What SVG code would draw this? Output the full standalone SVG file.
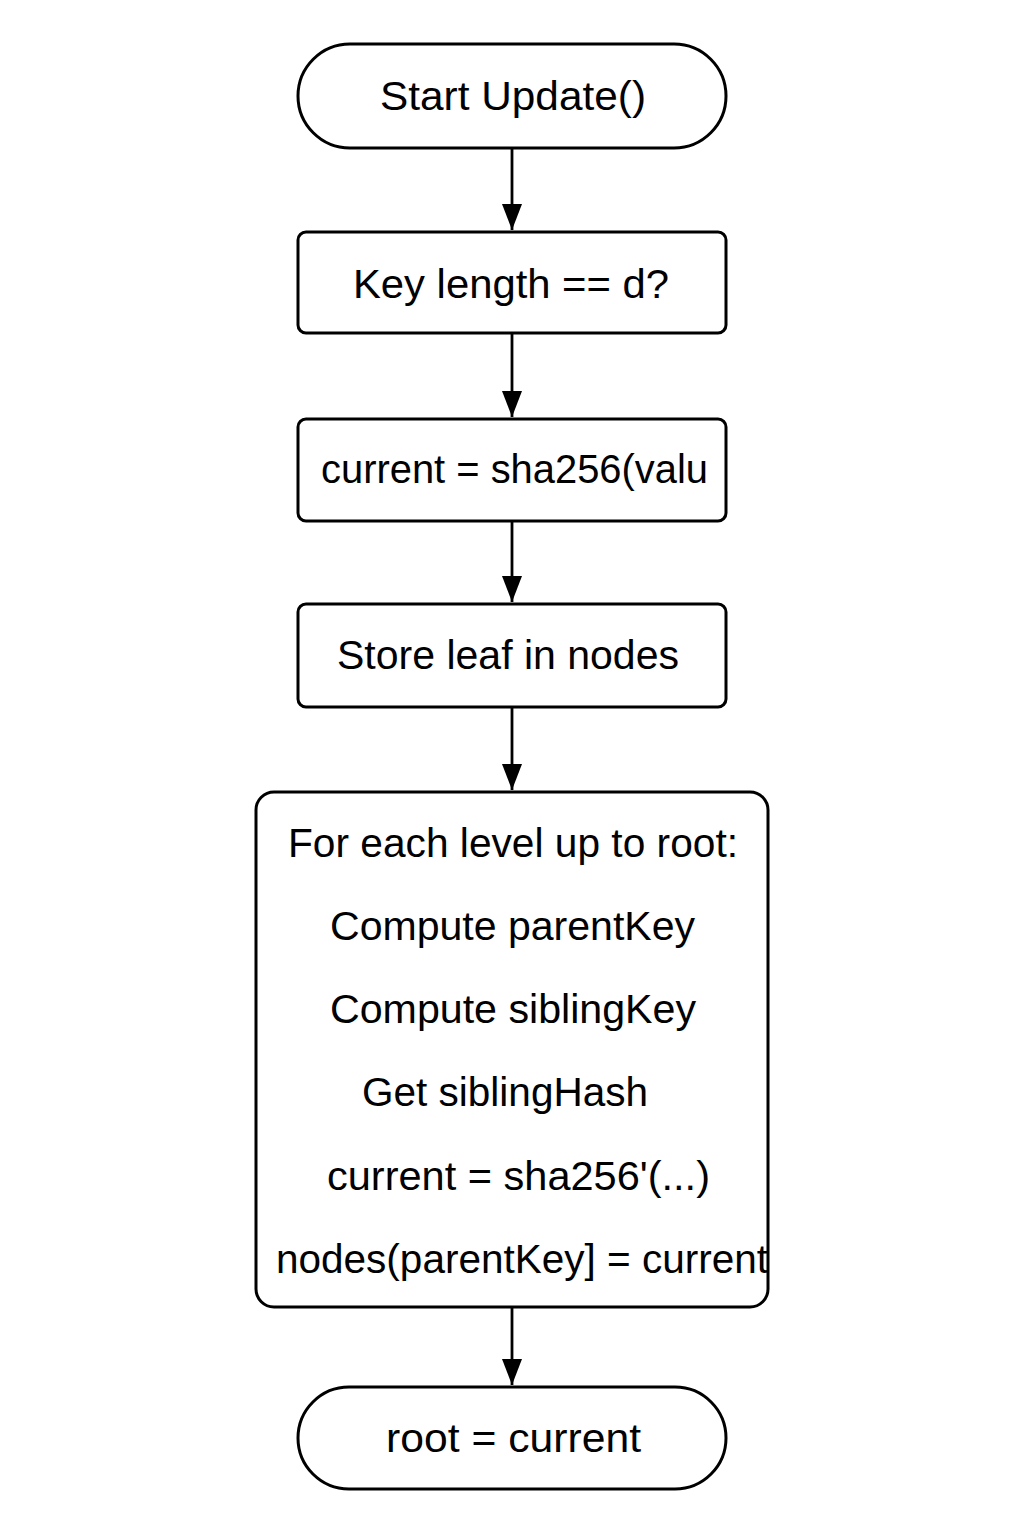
<svg xmlns="http://www.w3.org/2000/svg" width="1024" height="1536" viewBox="0 0 1024 1536">
<style>
.box{fill:#fff;stroke:#000;stroke-width:3}
.t{font-family:"Liberation Sans",Arial,sans-serif;font-size:40px;fill:#000;text-anchor:start}
.c{stroke:#000;stroke-width:2.8;fill:none;marker-end:url(#ah)}
</style>
<defs>
<marker id="ah" markerWidth="26" markerHeight="20" refX="26" refY="10" orient="auto" markerUnits="userSpaceOnUse" viewBox="0 0 26 20">
<path d="M0,0 L26,10 L0,20 Z" fill="#000"/>
</marker>
</defs>
<rect width="1024" height="1536" fill="#fff"/>
<g id="connectors">
<line class="c" x1="512" y1="148" x2="512" y2="230"/>
<line class="c" x1="512" y1="333" x2="512" y2="417"/>
<line class="c" x1="512" y1="521" x2="512" y2="602"/>
<line class="c" x1="512" y1="707" x2="512" y2="790"/>
<line class="c" x1="512" y1="1307" x2="512" y2="1385"/>
</g>
<g id="start">
<rect class="box" x="298" y="44" width="428" height="104" rx="52"/>
<text class="t" x="380" y="110" textLength="266" lengthAdjust="spacingAndGlyphs">Start Update()</text>
</g>
<g id="keycheck">
<rect class="box" x="298" y="232" width="428" height="101" rx="8"/>
<text class="t" x="353" y="298" textLength="316" lengthAdjust="spacingAndGlyphs">Key length == d?</text>
</g>
<g id="hashleaf">
<rect class="box" x="298" y="419" width="428" height="102" rx="8"/>
<text class="t" x="321" y="483" textLength="387" lengthAdjust="spacingAndGlyphs">current = sha256(valu</text>
</g>
<g id="storeleaf">
<rect class="box" x="298" y="604" width="428" height="103" rx="8"/>
<text class="t" x="337" y="669" textLength="342" lengthAdjust="spacingAndGlyphs">Store leaf in nodes</text>
</g>
<g id="loop">
<rect class="box" x="256" y="792" width="512" height="515" rx="18"/>
<text class="t" x="288" y="857" textLength="450" lengthAdjust="spacingAndGlyphs">For each level up to root:</text>
<text class="t" x="330" y="940" textLength="365" lengthAdjust="spacingAndGlyphs">Compute parentKey</text>
<text class="t" x="330" y="1023" textLength="366" lengthAdjust="spacingAndGlyphs">Compute siblingKey</text>
<text class="t" x="362" y="1106" textLength="286" lengthAdjust="spacingAndGlyphs">Get siblingHash</text>
<text class="t" x="327" y="1190" textLength="383" lengthAdjust="spacingAndGlyphs">current = sha256'(...)</text>
<text class="t" x="276" y="1273" textLength="492" lengthAdjust="spacingAndGlyphs">nodes(parentKey] = current</text>
</g>
<g id="end">
<rect class="box" x="298" y="1387" width="428" height="102" rx="51"/>
<text class="t" x="386" y="1452" textLength="255" lengthAdjust="spacingAndGlyphs">root = current</text>
</g>
</svg>
